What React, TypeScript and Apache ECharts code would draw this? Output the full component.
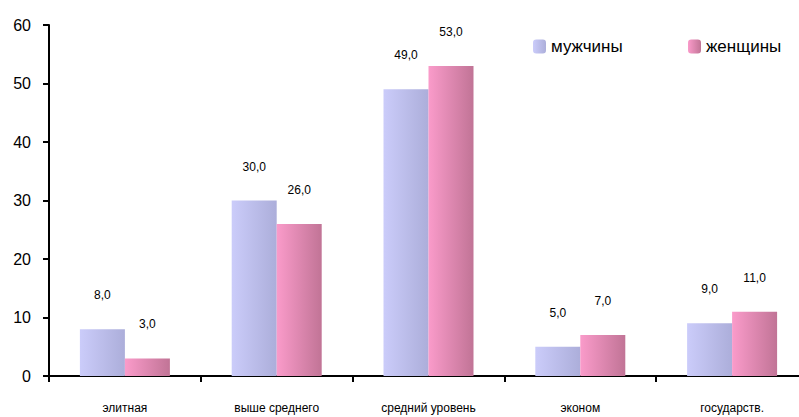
import React, { useEffect, useRef } from "react";
import * as echarts from "echarts";

const categories = ["элитная", "выше среднего", "средний уровень", "эконом", "государств."];
const menValues = [8, 30, 49, 5, 9];
const womenValues = [3, 26, 53, 7, 11];
const seriesNames = ["мужчины", "женщины"];

const FONT = "'Liberation Sans', Arial, sans-serif";

const grad = (a: string, b: string) =>
  new echarts.graphic.LinearGradient(0, 0, 1, 0, [
    { offset: 0, color: a },
    { offset: 1, color: b },
  ]);

const fmt = (p: any) => Number(p.value).toFixed(1).replace(".", ",");

export default function App() {
  const ref = useRef<HTMLDivElement>(null);

  useEffect(() => {
    if (!ref.current) return;
    const chart = echarts.init(ref.current, null, { renderer: "svg" });
    const label = {
      show: true,
      position: "top" as const,
      distance: 28,
      formatter: fmt,
      fontFamily: FONT,
      fontSize: 12,
      color: "#000",
    };
    const legendText = { fontFamily: FONT, fontSize: 17, color: "#000", padding: [0, 0, 0, 0] };
    chart.setOption({
      animation: false,
      backgroundColor: "#fff",
      textStyle: { fontFamily: FONT },
      grid: { left: 49, top: 25, bottom: 41, right: 0 },
      legend: [
        {
          data: [seriesNames[0]],
          left: 528,
          top: 33,
          itemWidth: 13,
          itemHeight: 14,
          itemGap: 0,
          textStyle: legendText,
        },
        {
          data: [seriesNames[1]],
          left: 683,
          top: 33,
          itemWidth: 13,
          itemHeight: 14,
          itemGap: 0,
          textStyle: legendText,
        },
      ],
      xAxis: {
        type: "category",
        data: categories,
        axisLine: { lineStyle: { color: "#000", width: 2 } },
        axisTick: { show: true, length: 6, lineStyle: { color: "#000", width: 2 } },
        axisLabel: { fontFamily: FONT, fontSize: 12, color: "#000", margin: 26 },
        splitLine: { show: false },
      },
      yAxis: {
        type: "value",
        min: 0,
        max: 60,
        interval: 10,
        axisLine: { show: true, lineStyle: { color: "#000", width: 2 } },
        axisTick: { show: true, length: 6, lineStyle: { color: "#000", width: 2 } },
        axisLabel: { fontFamily: FONT, fontSize: 16, color: "#000", margin: 18 },
        splitLine: { show: false },
      },
      series: [
        {
          name: seriesNames[0],
          type: "bar",
          data: menValues,
          barWidth: 45,
          barGap: "0%",
          itemStyle: { color: grad("#CBCCFA", "#ACAEDA") },
          label,
        },
        {
          name: seriesNames[1],
          type: "bar",
          data: womenValues,
          barWidth: 45,
          barGap: "0%",
          itemStyle: { color: grad("#FA9BCA", "#C17496") },
          label,
        },
      ],
    });
    return () => chart.dispose();
  }, []);

  // The plot runs slightly past the right edge of the visible frame.
  return (
    <div
      style={{
        position: "absolute",
        left: 0,
        top: 0,
        width: 799,
        height: 417,
        overflow: "hidden",
        background: "#fff",
      }}
    >
      <div ref={ref} style={{ width: 808, height: 417 }} />
    </div>
  );
}
